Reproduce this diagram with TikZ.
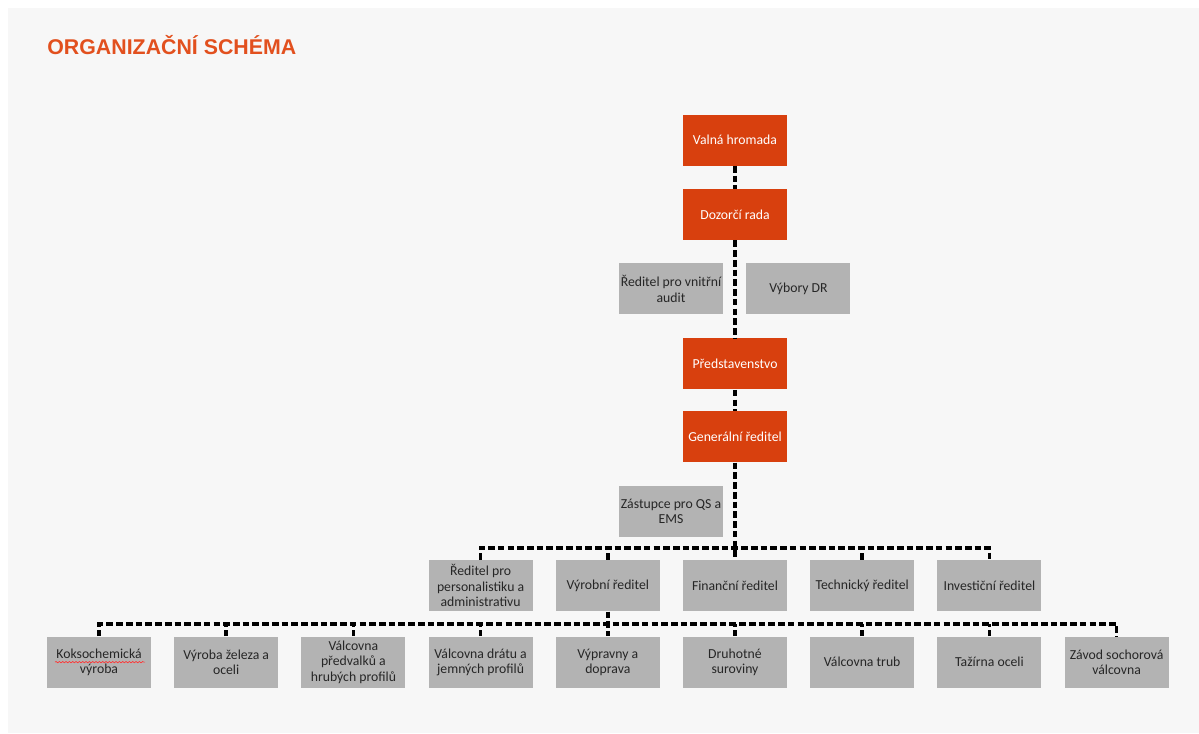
\documentclass[tikz,border=0pt]{standalone}
\usepackage{fontspec}
\setmainfont{Carlito}
\newfontfamily\titlefont{Liberation Sans}
\usepackage{tikz}
\usetikzlibrary{positioning, decorations.pathmorphing}

\definecolor{orgorange}{RGB}{216,64,14}
\definecolor{titleorange}{RGB}{226,80,30}
\definecolor{boxgray}{RGB}{179,179,179}
\definecolor{bggray}{RGB}{247,247,247}

\begin{document}
\begin{tikzpicture}[x=0.75pt, y=-0.75pt, node distance=17pt and 16.8pt, semithick,
          every node/.style={font=\fontsize{10.3}{11.5}\selectfont, inner sep=1pt, align=center,
                             minimum width=78pt, minimum height=38.25pt},
          board/.style={fill=orgorange, text=white},
          unit/.style={fill=boxgray, text=black!85},
          link/.style={line width=2.7pt, dash pattern=on 5pt off 2.3pt}]
        \useasboundingbox (0,0) rectangle (1199,733);
        \fill[bggray] (8,8) rectangle (1199,733);
        \node[anchor=west, inner sep=0pt, minimum width=0pt, minimum height=0pt, text=titleorange,
              font=\titlefont\bfseries\fontsize{16}{18}\selectfont] (title) at (47,45) {ORGANIZAČNÍ SCHÉMA};
        % vedeni
        \node[board] (valna) at (735,140) {Valná hromada};
        \node[board, below=of valna] (dozor) {Dozorčí rada};
        \node[unit, below=of dozor, xshift=-48pt] (audit) {Ředitel pro vnitřní\\audit};
        \node[unit, below=of dozor, xshift=47.6pt] (vybory) {Výbory DR};
        \node[board, below=of dozor, yshift=-56.2pt] (predst) {Představenstvo};
        \node[board, below=15.8pt of predst] (general) {Generální ředitel};
        \node[unit, below=of general, xshift=-48pt] (zastupce) {Zástupce pro QS a\\EMS};
        % reditele
        \node[unit, below=of zastupce, xshift=48pt] (financni) {Finanční ředitel};
        \node[unit, left=of financni] (vyrobni) {Výrobní ředitel};
        \node[unit, left=of vyrobni] (personal) {Ředitel pro\\personalistiku a\\administrativu};
        \node[unit, right=of financni] (technicky) {Technický ředitel};
        \node[unit, right=of technicky] (investicni) {Investiční ředitel};
        % provozy
        \node[unit, below=18.5pt of financni] (druhotne) {Druhotné\\suroviny};
        \node[unit, left=of druhotne] (vypravny) {Výpravny a\\doprava};
        \node[unit, left=of vypravny] (drat) {Válcovna drátu a\\jemných profilů};
        \node[unit, left=of drat] (predvalky) {Válcovna\\předvalků a\\hrubých profilů};
        \node[unit, left=of predvalky] (zelezo) {Výroba železa a\\oceli};
        \node[unit, left=of zelezo] (koks) {Koksochemická\\výroba};
        \node[unit, right=of druhotne] (trub) {Válcovna trub};
        \node[unit, right=of trub] (tazirna) {Tažírna oceli};
        \node[unit, right=of tazirna] (zavod) {Závod sochorová\\válcovna};
        \draw[red!80, decorate, decoration={snake, amplitude=0.5pt, segment length=2.5pt}, line width=0.5pt]
          (koks.center) ++(-44,0) -- ++(90,0);
        % spojnice
        \draw[link] (valna) -- (dozor);
        \draw[link] (dozor) -- (predst);
        \draw[link] (predst) -- (general);
        \draw[link] (general) -- (financni);
        \draw[link] (personal.north) -- ++(0,-12) -| (investicni.north);
        \draw[link] (vyrobni.north) -- ++(0,-12);
        \draw[link] (technicky.north) -- ++(0,-12);
        \draw[link] (vyrobni) -- (vypravny);
        \draw[link] (koks.north) -- ++(0,-12) -| (zavod.north);
        \foreach \n in {zelezo, predvalky, drat, druhotne, trub, tazirna}
          \draw[link] (\n.north) -- ++(0,-12);
\end{tikzpicture}
\end{document}
